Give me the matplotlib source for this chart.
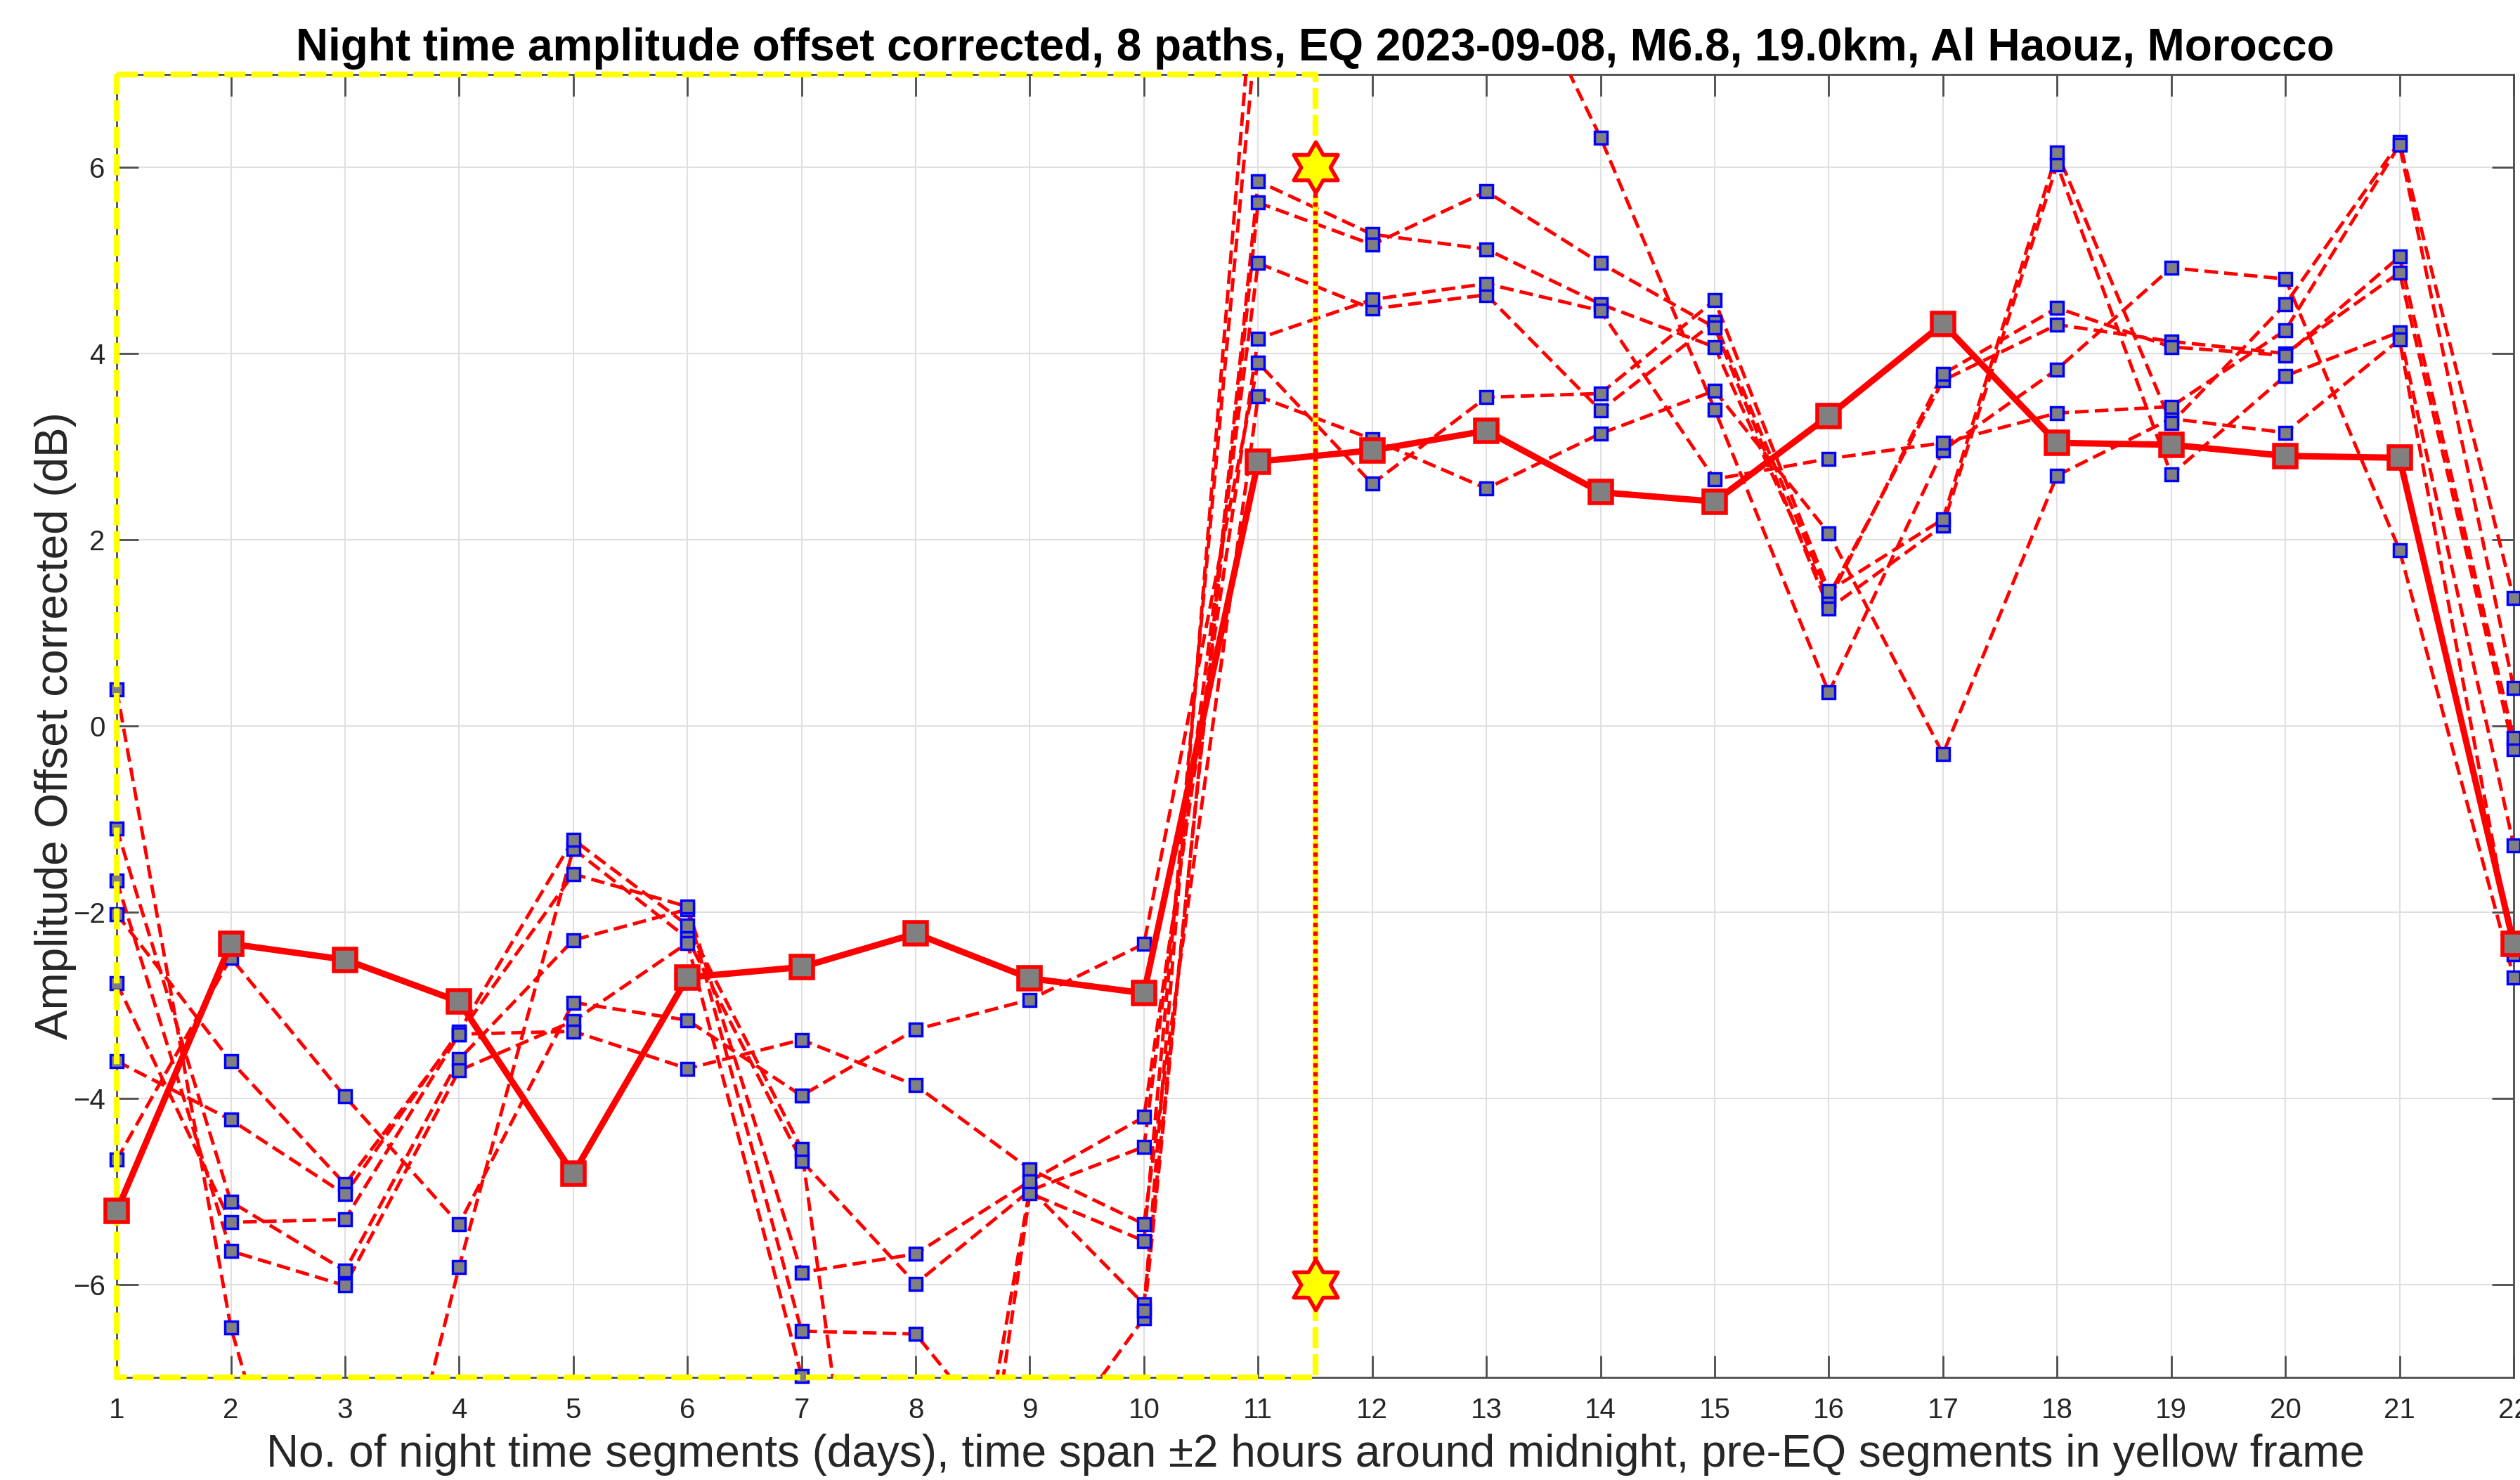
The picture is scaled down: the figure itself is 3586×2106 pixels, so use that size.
import numpy as np
import matplotlib
matplotlib.use("Agg")
import matplotlib.pyplot as plt
from matplotlib.path import Path

nan = np.nan

# night time segments (days)
segments = list(range(1, 23))

# amplitude offset corrected (dB) for each of the 8 paths
path_a = [0.39, -6.46, -10.7, -5.81, -1.32, -2.28, -4.67, -5.99, -4.99, -4.52, 4.97,
          4.48, 4.63, 3.39, 4.34, 1.40, 3.71, 4.31, 4.13, 4.00, 4.87, -0.25]
path_b = [-1.10, -5.11, -5.85, -3.58, -2.30, -1.97, -6.50, -6.53, -8.05, -6.36, 5.85,
          5.28, 5.12, 4.53, 4.07, 1.35, 3.78, 4.49, 4.07, 3.98, 5.04, -0.13]
path_c = [-1.66, -5.64, -6.01, -3.70, -3.17, -2.33, -6.98, -12.0, -4.97, -6.21, 5.62,
          5.17, 5.74, 4.97, 4.28, 1.26, 2.15, 6.03, 2.70, 3.76, 4.23, -1.28]
path_d = [-2.02, -3.60, -4.92, -3.31, -3.28, -3.68, -3.37, -3.86, -4.76, -5.35, 3.54,
          3.08, 2.55, 3.14, 3.60, 2.07, -0.30, 2.69, 3.30, 3.15, 4.15, -2.45]
path_e = [-3.60, -4.23, -5.03, -3.28, -1.22, -2.14, -4.54, -13.5, -5.02, -5.53, 7.7,
          8.3, 8.85, 6.32, 3.40, 0.36, 2.96, 3.83, 4.92, 4.80, 1.89, -2.70]
path_f = [-4.66, -2.49, -3.98, -5.35, -2.97, -3.16, -3.97, -3.26, -2.94, -2.34, 3.90,
          2.60, 3.53, 3.57, 4.57, 1.45, 2.22, 6.16, 3.25, 4.53, 6.27, 1.37]
path_g = [-2.76, -5.33, -5.30, -3.31, -1.59, -1.94, -5.87, -5.67, -4.89, -4.20, 4.16,
          4.58, 4.75, 4.46, 2.65, 2.87, 3.04, 3.36, 3.43, 4.25, 6.24, 0.41]
path_h = [nan, nan, nan, nan, nan, nan, nan, nan, nan, -6.28, 8.6,
          nan, nan, nan, nan, nan, nan, nan, nan, nan, nan, nan]

# thick line
mean_vals = [-5.21, -2.34, -2.51, -2.96, -4.81, -2.70, -2.59, -2.23, -2.71, -2.87, 2.84,
             2.96, 3.17, 2.51, 2.41, 3.33, 4.32, 3.04, 3.02, 2.90, 2.88, -2.34]

paths = [path_a, path_b, path_c, path_d, path_e, path_f, path_g, path_h]

eq_pos = 11.5
star_levels = [6, -6]
frame_x = [1, 11.5]
ylims = [-7, 7]


def hexagram():
    ang = np.pi / 2 + np.arange(12) * np.pi / 6
    rad = np.where(np.arange(12) % 2 == 0, 1.0, 1 / np.sqrt(3))
    verts = np.column_stack([rad * np.cos(ang), rad * np.sin(ang)])
    verts = np.vstack([verts, verts[:1]])
    codes = [Path.MOVETO] + [Path.LINETO] * 11 + [Path.CLOSEPOLY]
    return Path(verts, codes)


def main():
    plt.rcParams['font.family'] = ['Liberation Sans', 'DejaVu Sans']

    fig = plt.figure(figsize=(35.87, 21.06), dpi=100, facecolor="white")
    ax = fig.add_axes([0.0463, 0.0691, 0.9509, 0.8808])

    x = np.array(segments)

    # individual paths
    for p in paths:
        v = np.array(p, dtype=float)
        ax.plot(x, v, color='red', ls='--', lw=3.5, dashes=(4.0, 1.8), zorder=3)
        vin = np.where((v >= -7.05) & (v <= 7.05), v, np.nan)
        ax.plot(x, vin, ls='none', marker='s', ms=13, mfc='#808080', mec='#0000ff',
                mew=2.5, clip_on=False, zorder=4)

    # yellow frame of pre-EQ segments
    ax.plot([frame_x[0], frame_x[1], frame_x[1], frame_x[0], frame_x[0]],
            [ylims[1], ylims[1], ylims[0], ylims[0], ylims[1]],
            color='yellow', ls='--', lw=6, dashes=(3.6, 1.0), clip_on=False, zorder=5)
    ax.plot([eq_pos, eq_pos], star_levels, color='yellow', lw=4.5, zorder=5)
    ax.plot([eq_pos, eq_pos], star_levels, color='red', lw=4.5, ls=':',
            dashes=(1, 1), zorder=5)

    # thick line
    ax.plot(x, mean_vals, color='red', lw=6.5, marker='s', ms=23, mfc='#808080',
            mec='red', mew=4, clip_on=False, zorder=6)

    # EQ stars
    ax.plot([eq_pos] * len(star_levels), star_levels, ls='none', marker=hexagram(),
            ms=52, mfc='yellow', mec='red', mew=4, clip_on=False, zorder=7)

    ax.set_xlim(1, 22)
    ax.set_ylim(ylims[0], ylims[1])
    ax.set_xticks(segments)
    ax.set_yticks([-6, -4, -2, 0, 2, 4, 6])
    ax.grid(True, color='#e0e0e0', lw=1.5)
    ax.set_axisbelow(True)

    for s in ax.spines.values():
        s.set_color('#4d4d4d')
        s.set_linewidth(2)
    ax.tick_params(direction='in', top=True, right=True, length=22, width=2,
                   color='#4d4d4d', labelsize=29, labelcolor='#262626')
    ax.tick_params(axis='x', pad=20)
    ax.tick_params(axis='y', pad=12)

    ax.set_title("Night time amplitude offset corrected, 8 paths, EQ 2023-09-08, M6.8, "
                 "19.0km, Al Haouz, Morocco", fontsize=46, fontweight='bold', pad=14)
    ax.set_xlabel("No. of night time segments (days), time span \u00b12 hours around midnight, "
                  "pre-EQ segments in yellow frame", fontsize=46, color='#262626', labelpad=10)
    ax.set_ylabel("Amplitude Offset corrected (dB)", fontsize=46, color='#262626', labelpad=-4)

    fig.savefig("out.png", dpi=100, facecolor="white")


if __name__ == "__main__":
    main()
